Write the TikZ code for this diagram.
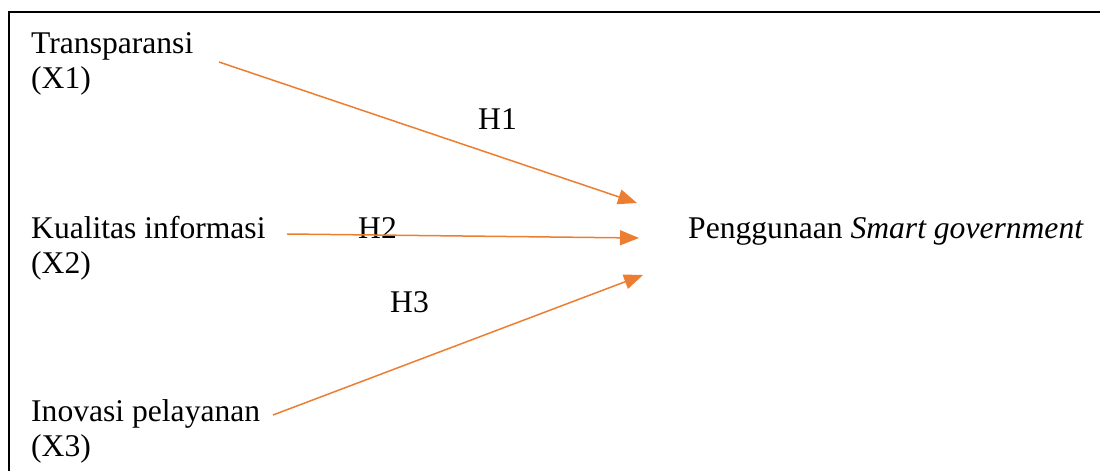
\documentclass[tikz,border=0pt]{standalone}
\usepackage{fontspec}
\setmainfont{Liberation Serif}
\usetikzlibrary{arrows.meta, positioning, calc}
\definecolor{oranye}{RGB}{237,125,49}

\begin{document}
\begin{tikzpicture}[x=1pt,y=-1pt,
  every node/.style={inner sep=0pt, font=\fontsize{31.6}{35}\selectfont},
  var/.style={anchor=base west, align=left},
  hip/.style={anchor=base west},
  panah/.style={draw=oranye, line width=1.5pt, -{Triangle[length=19pt,width=15pt]}, fill=oranye}]
\useasboundingbox (0,0) rectangle (1100,471);
% bingkai
\draw[line width=2pt] (9,471) -- (9,12) -- (1100,12);
% variabel (anchor = baris terakhir)
\node[var] (x1) at (31,88) {Transparansi\\(X1)};
\node[var] (x2) at (31,273) {Kualitas informasi\\(X2)};
\node[var] (x3) at (31,456) {Inovasi pelayanan\\(X3)};
\node[hip] (y) at (688,238) {Penggunaan \textit{Smart government}};
% hipotesis
\node[hip] (h1) at (478,129) {H1};
\node[hip] (h2) at (358,238) {H2};
\node[hip] (h3) at (390,312) {H3};
% ujung panah
\coordinate (a1) at (219,62);
\coordinate (a2) at (287,234);
\coordinate (a3) at (273,415);
\coordinate (b1) at (637,203);
\coordinate (b2) at (639,238);
\coordinate (b3) at (643,275);
\draw[panah] (a1) -- (b1);
\draw[panah] (a2) -- (b2);
\draw[panah] (a3) -- (b3);
\end{tikzpicture}
\end{document}
